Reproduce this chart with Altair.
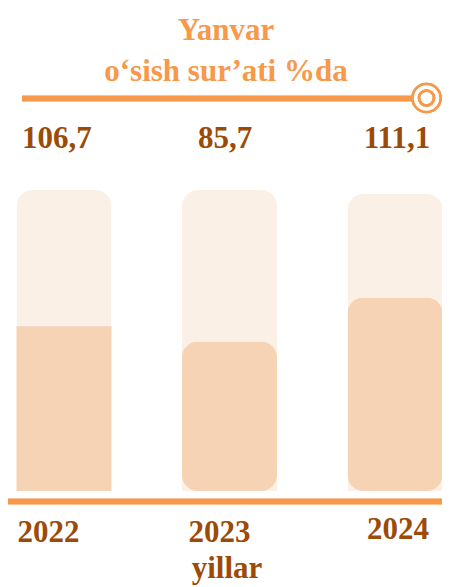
import altair as alt
import pandas as pd

# --- data ---
years = ["2022", "2023", "2024"]
growth = [106.7, 85.7, 111.1]          # January growth rate, %
track_level = [100.0, 100.0, 98.7]     # height of the light background track (visual)
fill_level = [54.7, 49.7, 64.3]        # height of the filled part (visual, as drawn)

title_lines = ["Yanvar", "o‘sish sur’ati %da"]
x_title = "yillar"

FONT = "Liberation Serif"
ORANGE = "#F7984A"
BROWN = "#9C4A08"
TRACK = "#FBF0E6"
FILL = "#F6D3B4"
FS = 31

df = pd.DataFrame({
    "year": years,
    "growth": growth,
    "label": [f"{v:.1f}".replace(".", ",") for v in growth],
    "track": track_level,
    "fill": fill_level,
})
title_df = pd.DataFrame({"line": title_lines, "row": [0, 1]})

W, H = 434, 301

xscale = alt.Scale(range=[8.5, 434.5], paddingInner=0.426, paddingOuter=0)
yscale = alt.Scale(domain=[0, 100])

x_enc = alt.X(
    "year:N",
    scale=xscale,
    sort=years,
    axis=alt.Axis(
        title=x_title,
        labelAngle=0,
        ticks=False,
        tickSize=0,
        domain=False,
        offset=10.5,
        labelFont=FONT,
        labelFontSize=FS,
        labelFontWeight="bold",
        labelColor=BROWN,
        labelPadding={
            "condition": {"test": "datum.value == '2024'", "value": 12.5},
            "value": 15.5,
        },
        labelOffset={
            "condition": [
                {"test": "datum.value == '2022'", "value": -15.5},
                {"test": "datum.value == '2023'", "value": -10},
            ],
            "value": 3,
        },
        titleFont=FONT,
        titleFontSize=FS,
        titleFontWeight="bold",
        titleColor=BROWN,
        titlePadding=6,
        titleX=218.5,
    ),
)

base = alt.Chart(df)

track = base.mark_bar(
    color=TRACK, cornerRadiusTopLeft=16, cornerRadiusTopRight=16
).encode(x=x_enc, y=alt.Y("track:Q", scale=yscale, axis=None))

fill_square = base.transform_filter("datum.year == '2022'").mark_bar(
    color=FILL
).encode(x=alt.X("year:N", sort=years), y=alt.Y("fill:Q", scale=yscale, axis=None))

fill_round = base.transform_filter("datum.year != '2022'").mark_bar(
    color=FILL, cornerRadius=16
).encode(x=alt.X("year:N", sort=years), y=alt.Y("fill:Q", scale=yscale, axis=None))

values = base.mark_text(
    font=FONT, fontSize=FS, fontWeight="bold", color=BROWN,
    baseline="alphabetic", align="center",
    dx=alt.expr("datum.year == '2022' ? -7 : datum.year == '2023' ? -4.5 : 2"),
).encode(x=alt.X("year:N", sort=years), y=alt.value(-42), text="label:N")

titles = alt.Chart(title_df).mark_text(
    font=FONT, fontSize=FS, fontWeight="bold", color=ORANGE,
    baseline="alphabetic", align="center",
).encode(
    x=alt.value(218),
    y=alt.Y("row:Q", scale=alt.Scale(domain=[0, 1], range=[-150, -109]), axis=None),
    text="line:N",
)

top_rule = alt.Chart(df).mark_rule(color=ORANGE, strokeWidth=5.5).encode(
    x=alt.value(14), x2=alt.value(406), y=alt.value(-91.5)
)

bottom_rule = alt.Chart(df).mark_rule(color=ORANGE, strokeWidth=5.5).encode(
    x=alt.value(0), x2=alt.value(W), y=alt.value(H + 10.5)
)

ring_outer = alt.Chart(df).mark_point(
    shape="circle", filled=True, fill="white", stroke=ORANGE, strokeWidth=2.6,
    size=784, opacity=1,
).encode(x=alt.value(418.5), y=alt.value(-92))

ring_inner = alt.Chart(df).mark_point(
    shape="circle", filled=False, stroke=ORANGE, strokeWidth=2.6, size=225, opacity=1,
).encode(x=alt.value(418.5), y=alt.value(-92))

chart = alt.layer(
    track, fill_square, fill_round, values, titles, top_rule, bottom_rule,
    ring_outer, ring_inner,
).resolve_scale(y="independent").properties(
    width=W,
    height=H,
    padding={"left": 0, "top": 182, "right": 0, "bottom": 96},
    autosize="none",
    background="white",
).configure_view(stroke=None, strokeWidth=0)

chart.save("out.html", embed_options={"renderer": "svg", "actions": False})
